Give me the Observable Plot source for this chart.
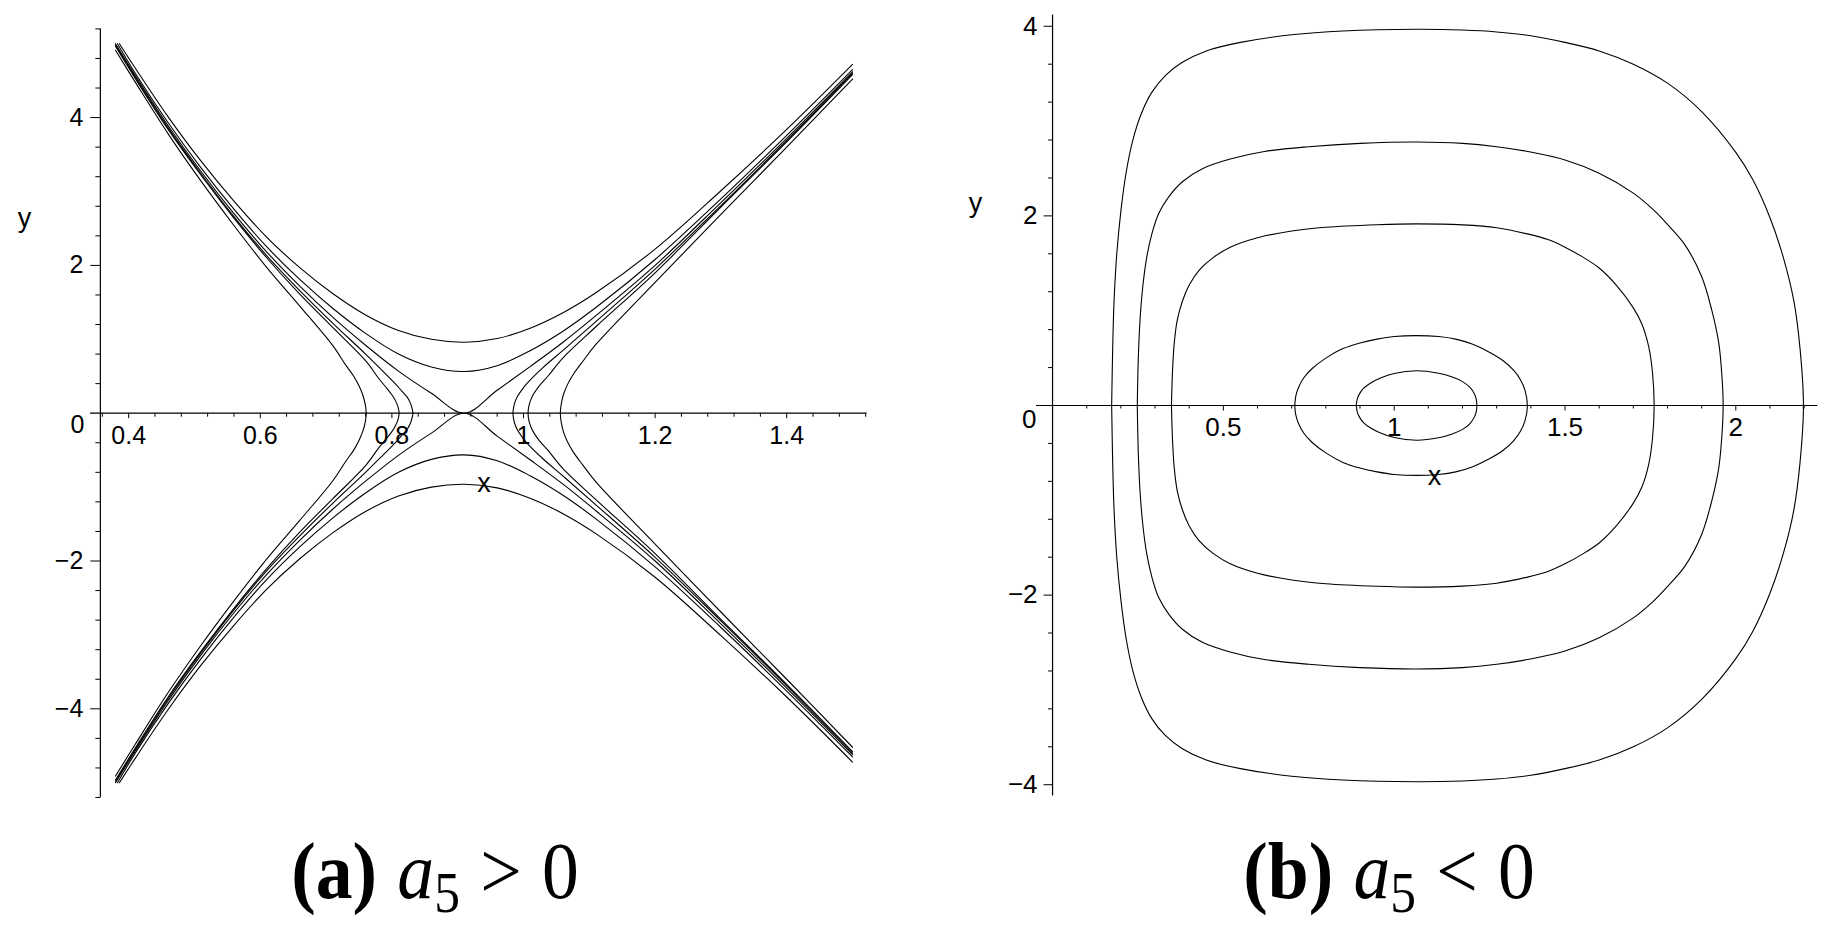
<!DOCTYPE html>
<html>
<head>
<meta charset="utf-8">
<script src="https://cdn.jsdelivr.net/npm/d3@7"></script>
<script src="https://cdn.jsdelivr.net/npm/@observablehq/plot@0.6"></script>
<style>
  html, body { margin: 0; padding: 0; background: #fff; }
  #wrap { position: relative; width: 1833px; height: 925px; overflow: hidden; background: #fff; }
  .panel { position: absolute; top: 0; }
  .cap { position: absolute; width: 600px; text-align: center; font-family: "Liberation Serif", "Times New Roman", serif;
         font-size: 80px; line-height: 80px; color: #000; white-space: nowrap; word-spacing: 2px;
         transform: scaleX(0.92); transform-origin: 50% 50%; }
  .cap .sub { position: relative; top: 0.25em; font-size: 0.7em; }
</style>
</head>
<body>
<div id="wrap">
  <div class="panel" id="left" style="left:0px"></div>
  <div class="panel" id="right" style="left:930px"></div>
  <div class="cap" style="left:135px; top:831px"><b>(a)</b> <i>a</i><span class="sub">5</span> &gt; 0</div>
  <div class="cap" style="left:1089px; top:831px"><b>(b)</b> <i>a</i><span class="sub">5</span> &lt; 0</div>
</div>
<script>
// ---------- Panel (a): a5 > 0  (upper halves; the picture is symmetric in y) ----------
const hypTopOuter = [[0.386,5.0],[0.41,4.67],[0.46,4.01],[0.51,3.41],[0.56,2.87],[0.61,2.38],[0.66,1.97],[0.71,1.62],[0.76,1.33],[0.81,1.12],[0.86,1.0],[0.91,0.961],[0.96,1.01],[1.01,1.15],[1.06,1.36],[1.11,1.63],[1.2,2.22],[1.3,3.01],[1.4,3.84],[1.5,4.72]];
const hypTopInner = [[0.383,5.0],[0.41,4.60],[0.46,3.93],[0.51,3.32],[0.56,2.76],[0.61,2.25],[0.66,1.81],[0.71,1.42],[0.76,1.08],[0.81,0.80],[0.86,0.625],[0.91,0.564],[0.96,0.643],[1.01,0.846],[1.06,1.11],[1.11,1.43],[1.2,2.08],[1.3,2.90],[1.4,3.76],[1.5,4.65]];
const separatrix = [[0.38,5.0],[0.41,4.57],[0.46,3.89],[0.51,3.27],[0.56,2.70],[0.61,2.18],[0.66,1.72],[0.71,1.30],[0.76,0.92],[0.81,0.57],[0.86,0.27],[0.91,0],[0.96,0.31],[1.01,0.63],[1.06,0.96],[1.11,1.32],[1.2,2.0],[1.3,2.85],[1.4,3.72],[1.5,4.62]];
const branchLeft1 = [[0.832,0],[0.8305,0.07],[0.828,0.14],[0.823,0.22],[0.815,0.3],[0.805,0.4],[0.785,0.58],[0.76,0.80],[0.71,1.22],[0.66,1.66],[0.61,2.13],[0.56,2.66],[0.51,3.24],[0.46,3.86],[0.41,4.55],[0.38,4.98]];
const branchLeft2 = [[0.811,0],[0.8095,0.08],[0.806,0.16],[0.8,0.25],[0.792,0.34],[0.78,0.47],[0.76,0.71],[0.71,1.16],[0.66,1.61],[0.61,2.10],[0.56,2.64],[0.51,3.22],[0.46,3.84],[0.41,4.53],[0.38,4.965]];
const branchLeft3 = [[0.761,0],[0.7595,0.12],[0.756,0.24],[0.75,0.37],[0.742,0.5],[0.73,0.65],[0.71,0.917],[0.66,1.45],[0.61,1.97],[0.56,2.54],[0.51,3.14],[0.46,3.78],[0.41,4.48],[0.38,4.91]];
const branchRight1 = [[0.984,0],[0.9848,0.07],[0.987,0.15],[0.991,0.23],[0.997,0.31],[1.005,0.4],[1.03,0.62],[1.06,0.85],[1.11,1.24],[1.2,1.95],[1.3,2.81],[1.4,3.69],[1.5,4.60]];
const branchRight2 = [[1.007,0],[1.008,0.09],[1.011,0.18],[1.016,0.27],[1.024,0.37],[1.037,0.5],[1.06,0.75],[1.11,1.17],[1.2,1.9],[1.3,2.79],[1.4,3.67],[1.5,4.58]];
const branchRight3 = [[1.056,0],[1.0575,0.13],[1.061,0.26],[1.067,0.39],[1.076,0.53],[1.09,0.7],[1.11,0.93],[1.2,1.77],[1.3,2.69],[1.4,3.60],[1.5,4.52]];

// ---------- Panel (b): a5 < 0  closed orbits (upper halves, left crossing to right crossing) ----------
const orbit1 = [[0.889,0],[0.892,0.07],[0.898,0.12],[0.91,0.18],[0.93,0.235],[0.96,0.29],[1.0,0.338],[1.066,0.366],[1.13,0.34],[1.17,0.3],[1.2,0.252],[1.222,0.19],[1.235,0.12],[1.24,0.07],[1.242,0]];
const orbit2 = [[0.709,0],[0.712,0.1],[0.72,0.19],[0.735,0.29],[0.76,0.39],[0.8,0.5],[0.85,0.6],[0.9,0.66],[0.95,0.7],[1.0,0.727],[1.066,0.737],[1.13,0.727],[1.18,0.7],[1.23,0.645],[1.28,0.56],[1.32,0.47],[1.35,0.37],[1.37,0.27],[1.383,0.16],[1.39,0]];
const orbit3 = [[0.348,0],[0.351,0.35],[0.356,0.65],[0.365,0.9],[0.38,1.1],[0.40,1.27],[0.43,1.43],[0.47,1.56],[0.52,1.67],[0.6,1.77],[0.7,1.84],[0.8,1.88],[0.95,1.907],[1.066,1.916],[1.2,1.905],[1.3,1.875],[1.39,1.81],[1.45,1.75],[1.5,1.67],[1.55,1.57],[1.6,1.45],[1.65,1.27],[1.7,1.03],[1.725,0.86],[1.745,0.62],[1.756,0.35],[1.761,0]];
const orbit4 = [[0.248,0],[0.251,0.5],[0.256,0.9],[0.264,1.25],[0.275,1.55],[0.29,1.8],[0.31,2.02],[0.34,2.2],[0.38,2.36],[0.44,2.5],[0.52,2.6],[0.62,2.68],[0.75,2.73],[0.9,2.765],[1.066,2.78],[1.2,2.765],[1.3,2.73],[1.39,2.68],[1.5,2.59],[1.6,2.45],[1.7,2.24],[1.76,2.06],[1.8,1.91],[1.85,1.7],[1.9,1.36],[1.93,1.0],[1.95,0.66],[1.959,0.33],[1.963,0]];
const orbit5 = [[0.173,0],[0.176,0.6],[0.18,1.1],[0.188,1.6],[0.2,2.05],[0.215,2.45],[0.235,2.8],[0.26,3.08],[0.29,3.3],[0.33,3.48],[0.38,3.62],[0.45,3.74],[0.55,3.83],[0.7,3.91],[0.85,3.95],[1.066,3.968],[1.2,3.96],[1.3,3.94],[1.4,3.9],[1.5,3.83],[1.6,3.74],[1.7,3.6],[1.8,3.4],[1.9,3.1],[2.0,2.67],[2.05,2.38],[2.1,1.98],[2.14,1.55],[2.17,1.1],[2.188,0.6],[2.198,0]];

// ---------- axes / ticks ----------
const leftXLabels = [0.4, 0.6, 0.8, 1, 1.2, 1.4];
const leftYLabels = [-4, -2, 2, 4];
const rightXLabels = [0.5, 1, 1.5, 2];
const rightYLabels = [-4, -2, 2, 4];
const leftXTicks = d3.range(9, 39).map(i => i * 0.04);      // 0.36 … 1.52
const leftYTicks = d3.range(-13, 14).map(i => i * 0.4);     // -5.2 … 5.2
const rightXTicks = d3.range(1, 23).map(i => i * 0.1);      // 0.1 … 2.2
const rightYTicks = d3.range(-10, 11).map(i => i * 0.4);    // -4 … 4

const fmt = v => (v < 0 ? "\u2212" : "") + String(Math.abs(Math.round(v * 10) / 10));
const isLabel = (v, arr) => arr.some(a => Math.abs(a - v) < 1e-6);
const major = (ticks, labels) => ticks.filter(t => isLabel(t, labels));
const minor = (ticks, labels) => ticks.filter(t => !isLabel(t, labels) && Math.abs(t) > 1e-9);

const tickDown = L => ({draw(ctx) { ctx.moveTo(0, 0); ctx.lineTo(0, L); }});
const tickLeft = L => ({draw(ctx) { ctx.moveTo(0, 0); ctx.lineTo(-L, 0); }});

const mirror = pts => pts.map(([x, y]) => [x, -y]);
function openPair(rows, id, pts) {
  pts.forEach(([x, y]) => rows.push({id: id + "u", x, y}));
  mirror(pts).forEach(([x, y]) => rows.push({id: id + "l", x, y}));
}
function branch(rows, id, pts) {
  const full = mirror(pts).reverse().concat(pts.slice(1));
  full.forEach(([x, y]) => rows.push({id, x, y}));
}
function closed(rows, id, pts) {
  const full = pts.concat(mirror(pts).reverse().slice(1));
  full.forEach(([x, y]) => rows.push({id, x, y}));
}

const leftRows = [];
openPair(leftRows, "A", hypTopOuter);
openPair(leftRows, "B", hypTopInner);
openPair(leftRows, "S", separatrix);
branch(leftRows, "L1", branchLeft1);
branch(leftRows, "L2", branchLeft2);
branch(leftRows, "L3", branchLeft3);
branch(leftRows, "R1", branchRight1);
branch(leftRows, "R2", branchRight2);
branch(leftRows, "R3", branchRight3);

const rightRows = [];
[orbit1, orbit2, orbit3, orbit4, orbit5].forEach((o, i) => closed(rightRows, "o" + i, o));

const FONT = "Liberation Sans, Arial, Helvetica, sans-serif";
const tickStyle = {stroke: "black", fill: "none", strokeWidth: 1};

const yAxisLeftX = 0.357;
const left = Plot.plot({
  width: 900, height: 830,
  marginLeft: 90, marginRight: 33.5, marginTop: 28.4, marginBottom: 33,
  x: {domain: [0.342, 1.522], axis: null},
  y: {domain: [-5.2, 5.2], axis: null},
  style: {fontFamily: FONT, background: "transparent", overflow: "visible"},
  marks: [
    Plot.ruleY([0], {stroke: "black", strokeWidth: 1.2}),
    Plot.ruleX([yAxisLeftX], {stroke: "black", strokeWidth: 1.2}),
    Plot.dot(major(leftXTicks, leftXLabels), {x: d => d, y: 0, symbol: tickDown(5), ...tickStyle}),
    Plot.dot(minor(leftXTicks, leftXLabels), {x: d => d, y: 0, symbol: tickDown(3.5), ...tickStyle}),
    Plot.dot(major(leftYTicks, leftYLabels), {x: yAxisLeftX, y: d => d, symbol: tickLeft(10), ...tickStyle}),
    Plot.dot(minor(leftYTicks, leftYLabels), {x: yAxisLeftX, y: d => d, symbol: tickLeft(5), ...tickStyle}),
    Plot.text(leftXLabels, {x: d => d, y: 0, text: fmt, dy: 23, fontSize: 25, textAnchor: "middle"}),
    Plot.text(leftYLabels, {x: yAxisLeftX, y: d => d, text: fmt, dx: -17, fontSize: 25, textAnchor: "end"}),
    Plot.text(["0"], {x: yAxisLeftX, y: 0, text: d => d, dx: -16, dy: 12, fontSize: 25, textAnchor: "end"}),
    Plot.text(["x"], {x: 0.94, y: -0.944, text: d => d, fontSize: 27, textAnchor: "middle"}),
    Plot.text(["y"], {x: 0.2416, y: 2.635, text: d => d, fontSize: 27, textAnchor: "middle"}),
    Plot.line(leftRows, {x: "x", y: "y", z: "id", curve: "catmull-rom", stroke: "black", strokeWidth: 1.1})
  ]
});

const right = Plot.plot({
  width: 903, height: 830,
  marginLeft: 106, marginRight: 15.7, marginTop: 14.4, marginBottom: 34.4,
  x: {domain: [-0.047, 2.24], axis: null},
  y: {domain: [-4.12, 4.12], axis: null},
  style: {fontFamily: FONT, background: "transparent", overflow: "visible"},
  marks: [
    Plot.ruleY([0], {stroke: "black", strokeWidth: 1.2}),
    Plot.ruleX([0], {stroke: "black", strokeWidth: 1.2}),
    Plot.dot(major(rightXTicks, rightXLabels), {x: d => d, y: 0, symbol: tickDown(5), ...tickStyle}),
    Plot.dot(minor(rightXTicks, rightXLabels), {x: d => d, y: 0, symbol: tickDown(3), ...tickStyle}),
    Plot.dot(major(rightYTicks, rightYLabels), {x: 0, y: d => d, symbol: tickLeft(9), ...tickStyle}),
    Plot.dot(minor(rightYTicks, rightYLabels), {x: 0, y: d => d, symbol: tickLeft(4.5), ...tickStyle}),
    Plot.text(rightXLabels, {x: d => d, y: 0, text: fmt, dy: 22, fontSize: 26, textAnchor: "middle"}),
    Plot.text(rightYLabels, {x: 0, y: d => d, text: fmt, dx: -15, fontSize: 26, textAnchor: "end"}),
    Plot.text(["0"], {x: 0, y: 0, text: d => d, dx: -16, dy: 14, fontSize: 26, textAnchor: "end"}),
    Plot.text(["x"], {x: 1.118, y: -0.744, text: d => d, fontSize: 27, textAnchor: "middle"}),
    Plot.text(["y"], {x: -0.2255, y: 2.127, text: d => d, fontSize: 27, textAnchor: "middle"}),
    Plot.line(rightRows, {x: "x", y: "y", z: "id", curve: "catmull-rom", stroke: "black", strokeWidth: 1.1})
  ]
});

document.getElementById("left").appendChild(left);
document.getElementById("right").appendChild(right);
</script>
</body>
</html>
